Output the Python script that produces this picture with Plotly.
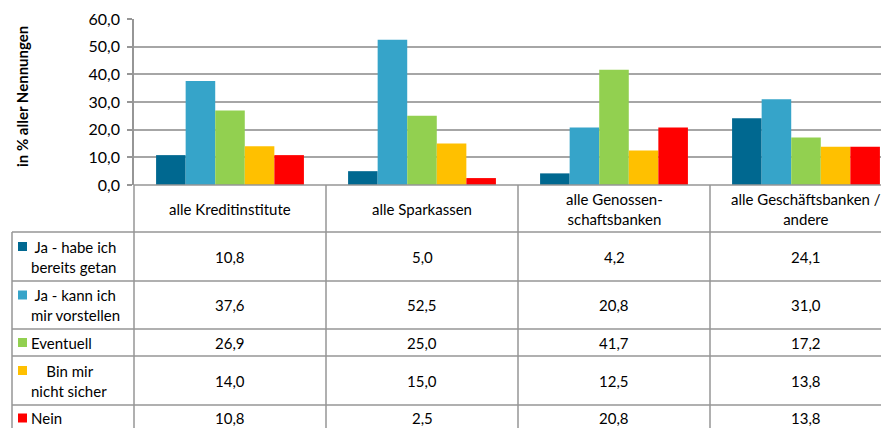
import plotly.graph_objects as go

categories = ["alle Kreditinstitute", "alle Sparkassen", "alle Genossen-<br>schaftsbanken", "alle Geschäftsbanken /<br>andere"]
series_names = ["Ja - habe ich bereits getan", "Ja - kann ich mir vorstellen", "Eventuell", "Bin mir nicht sicher", "Nein"]
legend_labels = ["\u00a0Ja - habe ich<br>bereits getan", "\u00a0Ja - kann ich<br>mir vorstellen", "Eventuell", "\u00a0\u00a0\u00a0\u00a0Bin mir<br>nicht sicher", "Nein"]
values = [
    [10.8, 5.0, 4.2, 24.1],
    [37.6, 52.5, 20.8, 31.0],
    [26.9, 25.0, 41.7, 17.2],
    [14.0, 15.0, 12.5, 13.8],
    [10.8, 2.5, 20.8, 13.8],
]
colors = ["#006890", "#36A4C9", "#92D050", "#FFC000", "#FF0000"]
y_ticks = [0, 10, 20, 30, 40, 50, 60]
y_title = "in % aller Nennungen"

OFF = 8  # page body margin
W, H = 889 - OFF, 428 - OFF
L, R_EDGE, T, B = 134, 889, 19, 185
pw, ph = R_EDGE - L, B - T
col_w = 192.0
FONT = "Lato"
FS = 15
GRAY = "#969696"

def px(x):
    return (x - L) / pw

def py(y):
    return (B - y) / ph

x_idx = list(range(len(categories)))
fig = go.Figure()
for name, vals, c in zip(series_names, values, colors):
    fig.add_trace(go.Bar(x=x_idx, y=vals, name=name, marker=dict(color=c, line=dict(width=0))))

x_max = -0.5 + pw / col_w
fig.update_layout(
    width=W, height=H,
    margin=dict(l=L - OFF, r=0, t=T - OFF, b=428 - B),
    paper_bgcolor="white", plot_bgcolor="white",
    barmode="group", bargap=0.23, bargroupgap=0,
    showlegend=False,
    separators=",.",
    font=dict(family=FONT, size=FS, color="#000000"),
    xaxis=dict(range=[-0.5, x_max], showticklabels=False, showgrid=False, zeroline=False,
               showline=False, ticks=""),
    yaxis=dict(range=[0, 60], tickvals=y_ticks, tickformat=".1f", showgrid=True,
               gridcolor="#A6A6A6", gridwidth=1.5, zeroline=False, showline=True,
               linecolor=GRAY, linewidth=1.5, ticks="outside", ticklen=5, tickcolor=GRAY,
               tickwidth=1.5, ticklabelstandoff=4, tickfont=dict(size=16, family=FONT)),
)

shapes = []
header_bottom = 232
row_edges = [232, 281, 329, 356, 405, 460]
left_x = 12
line = dict(color=GRAY, width=1.5)
shapes.append(dict(type="line", xref="paper", yref="paper", x0=0, x1=1, y0=0, y1=0, line=line))
for ry in row_edges[:-1]:
    shapes.append(dict(type="line", xref="paper", yref="paper", x0=px(left_x), x1=1,
                       y0=py(ry), y1=py(ry), line=line))
for i in range(len(categories)):
    vx = L + i * col_w
    shapes.append(dict(type="line", xref="paper", yref="paper", x0=px(vx), x1=px(vx),
                       y0=0, y1=py(440), line=line))
shapes.append(dict(type="line", xref="paper", yref="paper", x0=px(left_x), x1=px(left_x),
                   y0=py(header_bottom), y1=py(440), line=line))

annotations = []
for i, cat in enumerate(categories):
    annotations.append(dict(x=i, xref="x", y=py((B + header_bottom) / 2), yref="paper",
                            text=cat, showarrow=False, xanchor="center", yanchor="middle",
                            font=dict(size=FS, family=FONT)))
for r, (lab, vals, c) in enumerate(zip(legend_labels, values, colors)):
    if r < 4:
        yc = (row_edges[r] + row_edges[r + 1]) / 2
    else:
        yc = 418
    for i, v in enumerate(vals):
        annotations.append(dict(x=i, xref="x", y=py(yc), yref="paper",
                                text=f"{v:.1f}".replace(".", ","), showarrow=False,
                                xanchor="center", yanchor="middle", font=dict(size=FS, family=FONT)))
    annotations.append(dict(x=px(29), xref="paper", y=py(yc), yref="paper", text=lab,
                            showarrow=False, xanchor="left", yanchor="middle", align="left",
                            font=dict(size=FS, family=FONT)))
    two_lines = "<br>" in lab
    my = yc - 10 if two_lines else yc
    shapes.append(dict(type="rect", xref="paper", yref="paper", x0=px(18), x1=px(27),
                       y0=py(my + 4.5), y1=py(my - 4.5), fillcolor=c, line=dict(width=0)))

annotations.append(dict(x=px(22), xref="paper", y=py(96), yref="paper", text="<b>" + y_title + "</b>",
                        textangle=-90, showarrow=False, xanchor="center", yanchor="middle",
                        font=dict(size=15, family=FONT)))

fig.update_layout(shapes=shapes, annotations=annotations)
fig.write_html("out.html")
